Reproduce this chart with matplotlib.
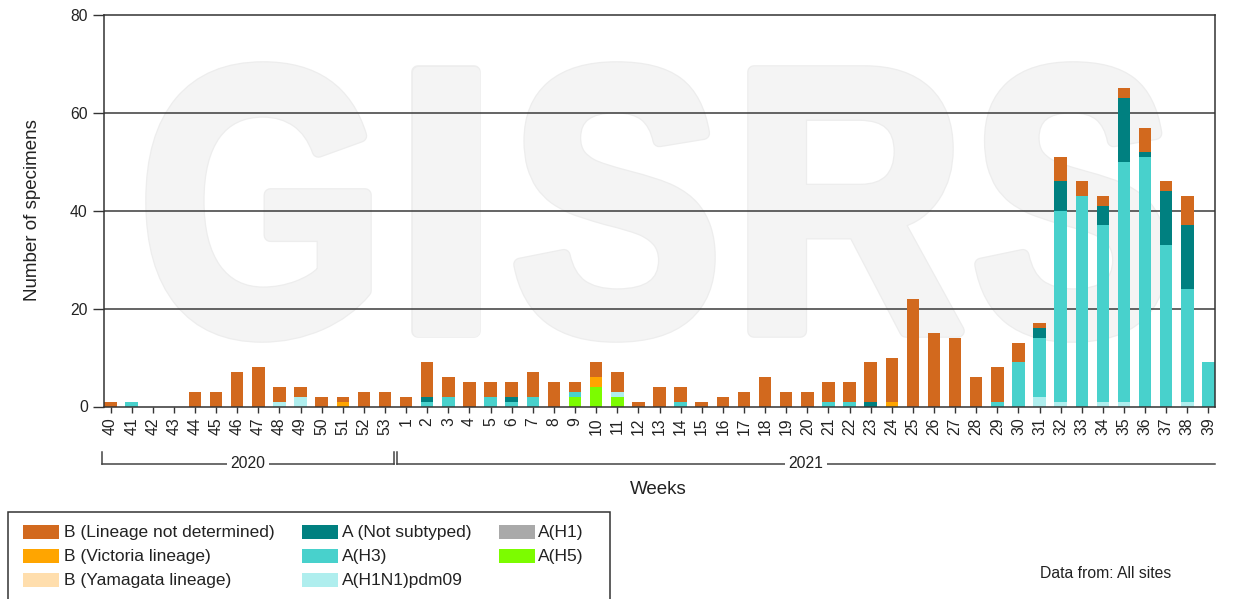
import matplotlib
matplotlib.use("Agg")
import matplotlib.pyplot as plt
import numpy as np
from matplotlib.patches import Rectangle, PathPatch
from matplotlib.textpath import TextPath
from matplotlib.font_manager import FontProperties
from matplotlib.transforms import Affine2D, blended_transform_factory
from matplotlib.lines import Line2D

plt.rcParams['font.family'] = ['Liberation Sans', 'DejaVu Sans']

# ---------------------------------------------------------------- data
weeks_2020 = list(range(40, 54))
weeks_2021 = list(range(1, 40))
week_labels = [str(w) for w in weeks_2020 + weeks_2021]

#                  40 41 42 43 44 45 46 47 48 49 50 51 52 53 | 1  2  3  4  5  6  7  8  9 10 11 12 13 14 15 16 17 18 19 20 21 22 23 24  25  26  27 28 29 30 31 32 33 34 35 36 37 38 39
b_not_determined = [1, 0, 0, 0, 3, 3, 7, 8, 3, 2, 2, 1, 3, 3,   2, 7, 4, 5, 3, 3, 5, 5, 2, 3, 4, 1, 4, 3, 1, 2, 3, 6, 3, 3, 4, 4, 8, 9, 22, 15, 14, 6, 7, 4, 1, 5, 3, 2, 2, 5, 2, 6, 0]
b_victoria       = [0, 0, 0, 0, 0, 0, 0, 0, 0, 0, 0, 1, 0, 0,   0, 0, 0, 0, 0, 0, 0, 0, 0, 2, 0, 0, 0, 0, 0, 0, 0, 0, 0, 0, 0, 0, 0, 1,  0,  0,  0, 0, 0, 0, 0, 0, 0, 0, 0, 0, 0, 0, 0]
b_yamagata       = [0, 0, 0, 0, 0, 0, 0, 0, 0, 0, 0, 0, 0, 0,   0, 0, 0, 0, 0, 0, 0, 0, 0, 0, 0, 0, 0, 0, 0, 0, 0, 0, 0, 0, 0, 0, 0, 0,  0,  0,  0, 0, 0, 0, 0, 0, 0, 0, 0, 0, 0, 0, 0]
a_not_subtyped   = [0, 0, 0, 0, 0, 0, 0, 0, 0, 0, 0, 0, 0, 0,   0, 1, 0, 0, 0, 1, 0, 0, 0, 0, 0, 0, 0, 0, 0, 0, 0, 0, 0, 0, 0, 0, 1, 0,  0,  0,  0, 0, 0, 0, 2, 6, 0, 4,13, 1,11,13, 0]
a_h3             = [0, 1, 0, 0, 0, 0, 0, 0, 0, 0, 0, 0, 0, 0,   0, 1, 2, 0, 2, 1, 2, 0, 1, 0, 0, 0, 0, 1, 0, 0, 0, 0, 0, 0, 1, 1, 0, 0,  0,  0,  0, 0, 1, 9,12,39,43,36,49,51,33,23, 9]
a_h1n1pdm09      = [0, 0, 0, 0, 0, 0, 0, 0, 1, 2, 0, 0, 0, 0,   0, 0, 0, 0, 0, 0, 0, 0, 0, 0, 1, 0, 0, 0, 0, 0, 0, 0, 0, 0, 0, 0, 0, 0,  0,  0,  0, 0, 0, 0, 2, 1, 0, 1, 1, 0, 0, 1, 0]
a_h1             = [0, 0, 0, 0, 0, 0, 0, 0, 0, 0, 0, 0, 0, 0,   0, 0, 0, 0, 0, 0, 0, 0, 0, 0, 0, 0, 0, 0, 0, 0, 0, 0, 0, 0, 0, 0, 0, 0,  0,  0,  0, 0, 0, 0, 0, 0, 0, 0, 0, 0, 0, 0, 0]
a_h5             = [0, 0, 0, 0, 0, 0, 0, 0, 0, 0, 0, 0, 0, 0,   0, 0, 0, 0, 0, 0, 0, 0, 2, 4, 2, 0, 0, 0, 0, 0, 0, 0, 0, 0, 0, 0, 0, 0,  0,  0,  0, 0, 0, 0, 0, 0, 0, 0, 0, 0, 0, 0, 0]

series_labels = {
    'b_nd': 'B (Lineage not determined)', 'b_vic': 'B (Victoria lineage)',
    'b_yam': 'B (Yamagata lineage)', 'a_ns': 'A (Not subtyped)',
    'a_h3': 'A(H3)', 'a_pdm': 'A(H1N1)pdm09', 'a_h1': 'A(H1)', 'a_h5': 'A(H5)',
}
series_values = {
    'b_nd': b_not_determined, 'b_vic': b_victoria, 'b_yam': b_yamagata,
    'a_ns': a_not_subtyped, 'a_h3': a_h3, 'a_pdm': a_h1n1pdm09,
    'a_h1': a_h1, 'a_h5': a_h5,
}
series_colors = {
    'b_nd': '#D2691E', 'b_vic': '#FFA500', 'b_yam': '#FFDEAD',
    'a_ns': '#008080', 'a_h3': '#48D1CC', 'a_pdm': '#AFEEEE',
    'a_h1': '#A9A9A9', 'a_h5': '#7CFC00',
}
stack_order = ['a_h1', 'a_h5', 'a_pdm', 'a_h3', 'a_ns', 'b_yam', 'b_vic', 'b_nd']
legend_columns = [['b_nd', 'b_vic', 'b_yam'], ['a_ns', 'a_h3', 'a_pdm'], ['a_h1', 'a_h5']]

# ---------------------------------------------------------------- layout
W, H = 1235, 599
fig = plt.figure(figsize=(W / 100, H / 100), dpi=100)
fig.patch.set_facecolor('white')

AX_L, AX_R, AX_T, AX_B = 104, 1215, 15, 406.5
ax = fig.add_axes([AX_L / W, 1 - AX_B / H, (AX_R - AX_L) / W, (AX_B - AX_T) / H])

def fx(px):
    return px / W

def fy(py):
    return 1 - py / H

text_col = '#222222'
line_col = '#333333'

# background watermark, letter by letter (pixel boxes); a wide stroke in the
# fill colour gives the heavy, condensed look of the lettering
fp_bold = FontProperties(family='Liberation Sans', weight='bold')
grow = 6  # px added on each side by the stroke
for ch, x0, x1, y0, y1 in [('G', 146, 371, 62, 342), ('I', 412, 480, 66, 337),
                           ('S', 514, 715, 62, 342), ('R', 748, 964, 66, 337),
                           ('S', 975, 1167, 62, 342)]:
    x0, x1, y0, y1 = x0 + grow, x1 - grow, y0 + grow, y1 - grow
    tp = TextPath((0, 0), ch, size=100, prop=fp_bold)
    ext = tp.get_extents()
    a0 = (x0 - AX_L) / (AX_R - AX_L)
    a1 = (x1 - AX_L) / (AX_R - AX_L)
    b_top = (AX_B - y0) / (AX_B - AX_T)
    b_bot = (AX_B - y1) / (AX_B - AX_T)
    tr = (Affine2D().translate(-ext.x0, -ext.y0)
          .scale((a1 - a0) / ext.width, (b_top - b_bot) / ext.height)
          .translate(a0, b_bot))
    path = tr.transform_path(tp)
    ax.add_patch(PathPatch(path, transform=ax.transAxes, facecolor='#ededed',
                           edgecolor='#ededed', lw=2 * grow * 0.72 + 1.2,
                           joinstyle='round', zorder=0.3))
    ax.add_patch(PathPatch(path, transform=ax.transAxes, facecolor='#f4f4f4',
                           edgecolor='#f4f4f4', lw=2 * grow * 0.72 - 0.6,
                           joinstyle='round', zorder=0.31))

# gridlines
for yv in (20, 40, 60):
    ax.axhline(yv, color='#3a3a3a', lw=1.1, zorder=1)

# stacked bars
x = np.arange(len(week_labels))
bottom = np.zeros(len(x))
for key in stack_order:
    vals = np.array(series_values[key], dtype=float)
    ax.bar(x, vals, width=0.59, bottom=bottom, color=series_colors[key],
           linewidth=0, zorder=2)
    bottom += vals

ax.set_xlim(-0.31, 52.31)
ax.set_ylim(0, 80)
ax.set_yticks([0, 20, 40, 60, 80])
ax.set_xticks(x)
ax.set_xticklabels(week_labels, rotation=90, ha='center', va='top')
ax.tick_params(axis='y', length=7.7, width=1, color=line_col, labelsize=11.3,
               labelcolor=text_col, pad=4)
ax.tick_params(axis='x', length=4.3, width=1, color=line_col, labelsize=11.3,
               labelcolor=text_col, pad=3.5)
for sp in ax.spines.values():
    sp.set_color(line_col)
    sp.set_linewidth(1.1)

# axis titles
fig.text(fx(33), fy(210), 'Number of specimens', rotation=90, ha='center',
         va='center', fontsize=13.5, color=text_col)
fig.text(fx(658), fy(490), 'Weeks', ha='center', va='center', fontsize=13.5,
         color=text_col)

# season brackets under the week labels
btr = blended_transform_factory(ax.transData, fig.transFigure)
y_line, y_tick = fy(464), fy(452)
for xa, xb, label, right_tick in [(-0.40, 13.43, '2020', True), (13.58, 52.31, '2021', False)]:
    fig.add_artist(Line2D([xa, xb], [y_line, y_line], transform=btr,
                          color='#444444', lw=1.1))
    fig.add_artist(Line2D([xa, xa], [y_tick, y_line], transform=btr,
                          color='#444444', lw=1.1))
    if right_tick:
        fig.add_artist(Line2D([xb, xb], [y_tick, y_line], transform=btr,
                              color='#444444', lw=1.1))
    fig.text((xa + xb) / 2, y_line, label, transform=btr, ha='center', va='center',
             fontsize=11.3, color=text_col,
             bbox=dict(facecolor='white', edgecolor='none', pad=2.5))

# legend box
fig.add_artist(Rectangle((fx(8), fy(605)), fx(602), fy(512) - fy(605),
                         transform=fig.transFigure, facecolor='white',
                         edgecolor=line_col, lw=1.1))
col_patch_x = [23, 302, 499]
col_text_x = [64, 342, 538]
row_y = [532, 556, 580]
for ci, keys in enumerate(legend_columns):
    for ri, key in enumerate(keys):
        yc = row_y[ri]
        fig.add_artist(Rectangle((fx(col_patch_x[ci]), fy(yc + 7)), fx(36),
                                 fy(yc - 7) - fy(yc + 7), transform=fig.transFigure,
                                 facecolor=series_colors[key], edgecolor='none'))
        fig.text(fx(col_text_x[ci]), fy(yc), series_labels[key], ha='left',
                 va='center', fontsize=12.5, color=text_col)

fig.text(fx(1040), fy(573), 'Data from: All sites', ha='left', va='center',
         fontsize=11.3, color=text_col)

fig.savefig('out.png', dpi=100, facecolor='white')
